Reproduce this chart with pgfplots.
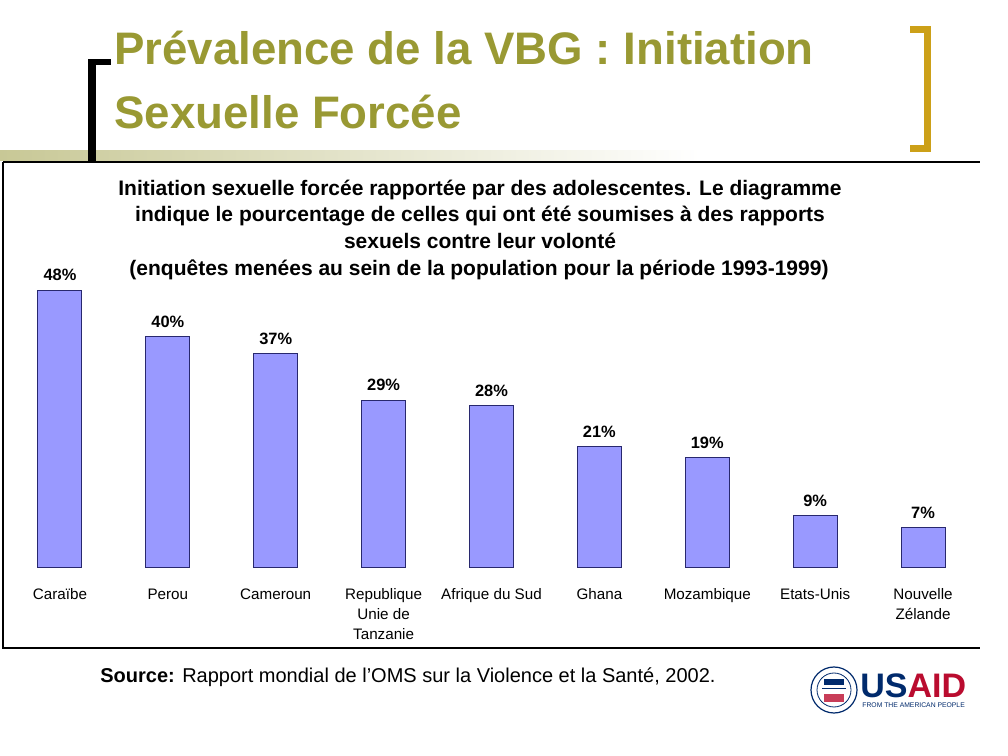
\documentclass[border=0pt]{standalone}
\usepackage{pgfplots}
\pgfplotsset{compat=1.18}
\usepackage{fontspec}
\setmainfont{Liberation Sans}
\definecolor{titleolive}{RGB}{153,153,51}
\definecolor{bandolive}{RGB}{200,200,150}
\definecolor{goldbr}{RGB}{204,160,24}
\definecolor{barblue}{RGB}{153,153,255}
\definecolor{barline}{RGB}{40,40,110}
\definecolor{usnavy}{RGB}{0,42,108}
\definecolor{usred}{RGB}{186,12,47}
\begin{document}
\begin{tikzpicture}
\useasboundingbox (0,0) rectangle (504pt,378pt);
\fill[white] (0,0) rectangle (504pt,378pt);
\begin{scope}[yshift=378pt,x=0.5pt,y=-0.5pt]
  % band and lines
  \shade[left color=bandolive,right color=white] (0,151) rectangle (700,161);
  \draw[line width=0.6pt] (3,162) -- (980,162);
  \draw[line width=0.6pt] (3,162) -- (3,648) -- (980,648);
  % black bracket
  \fill[black] (88,59) rectangle (96,163);
  \fill[black] (88,59) rectangle (111,65);
  % gold bracket
  \fill[goldbr] (924,26) rectangle (931,152);
  \fill[goldbr] (910,26) rectangle (931,33);
  \fill[goldbr] (910,145) rectangle (931,152);
  % slide title
  \node[anchor=base west,inner sep=0pt,text=titleolive,font=\bfseries\fontsize{22.8}{28}\selectfont] at (114,65) {Prévalence de la VBG : Initiation};
  \node[anchor=base west,inner sep=0pt,text=titleolive,font=\bfseries\fontsize{22.8}{28}\selectfont] at (114,129) {Sexuelle Forcée};
  % chart title
  \node[anchor=base,inner sep=0pt,font=\bfseries\fontsize{10.5}{13}\selectfont] at (480,196) {Initiation sexuelle forcée rapportée par des adolescentes. Le diagramme};
  \node[anchor=base,inner sep=0pt,font=\bfseries\fontsize{10.5}{13}\selectfont] at (480,222) {indique le pourcentage de celles qui ont été soumises à des rapports};
  \node[anchor=base,inner sep=0pt,font=\bfseries\fontsize{10.5}{13}\selectfont] at (480,249) {sexuels contre leur volonté};
  \node[anchor=base,inner sep=0pt,font=\bfseries\fontsize{10.5}{13}\selectfont] at (479,276) {(enquêtes menées au sein de la population pour la période 1993-1999)};
  % source
  \node[anchor=base west,inner sep=0pt,font=\fontsize{10}{12}\selectfont] at (100,683) {\textbf{Source:} Rapport mondial de l’OMS sur la Violence et la Santé, 2002.};
  % USAID logo (approximation)
  \draw[usnavy,line width=0.6pt] (834,690) circle (23);
  \draw[usnavy,line width=0.4pt] (834,690) circle (17);
  \fill[usnavy] (824,679) rectangle (844,685);
  \fill[usred!80] (824,694) rectangle (844,702);
  \draw[usnavy,line width=0.5pt] (822,689) -- (846,689);
  \node[anchor=base west,inner sep=0pt,font=\bfseries\fontsize{17}{20}\selectfont] at (860,698) {\textcolor{usnavy}{US}\textcolor{usred}{AID}};
  \node[anchor=base west,inner sep=0pt,text=usnavy,font=\fontsize{3.4}{4}\selectfont] at (862,708) {FROM THE AMERICAN PEOPLE};
\end{scope}
\begin{axis}[
  at={(3pt,94pt)}, anchor=south west,
  scale only axis, width=485.5pt, height=200pt,
  xmin=-0.5, xmax=8.5, ymin=0, ymax=69.08,
  ybar, bar width=22pt,
  axis line style={draw=none},
  major tick length=0pt,
  ytick=\empty,
  xtick={0,1,2,3,4,5,6,7,8},
  typeset ticklabels with strut,
  xticklabels={Caraïbe,Perou,Cameroun,{Republique\\Unie de\\Tanzanie},Afrique du Sud,Ghana,Mozambique,Etats-Unis,{Nouvelle\\Zélande}},
  xticklabel style={font=\fontsize{7.6}{10}\selectfont,align=center,anchor=north,yshift=-5pt},
  /pgf/number format/assume math mode=true,
  nodes near coords={\pgfmathprintnumber{\pgfplotspointmeta}\%},
  nodes near coords style={font=\bfseries\fontsize{8.2}{10}\selectfont,anchor=south,yshift=1pt},
  clip=false,
]
\addplot[fill=barblue,draw=barline,line width=0.5pt] coordinates {
(0,48) (1,40) (2,37) (3,29) (4,28) (5,21) (6,19) (7,9) (8,7)};
\end{axis}
\end{tikzpicture}
\end{document}
